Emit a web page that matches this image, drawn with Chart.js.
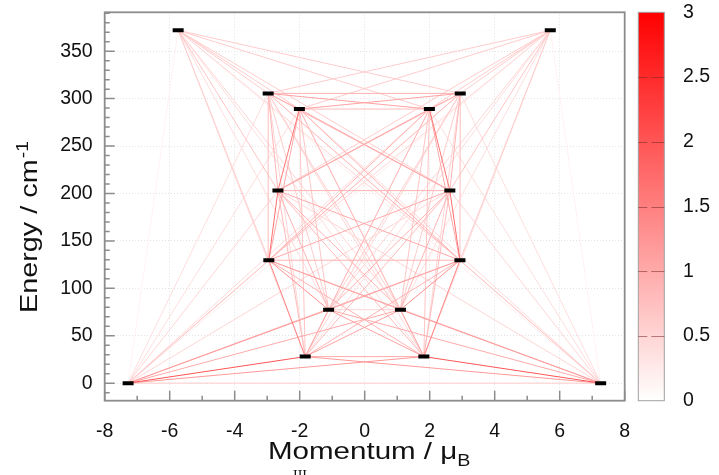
<!DOCTYPE html>
<html>
<head>
<meta charset="utf-8">
<script src="https://cdn.jsdelivr.net/npm/chart.js@4.4.1/dist/chart.umd.min.js"></script>
<style>
  html, body { margin: 0; padding: 0; background: #fff; }
</style>
</head>
<body>
<canvas id="levelChart" width="719" height="475"></canvas>
<script>
// doublet energies (cm-1) and the moments of the two states of each doublet (muB)
const levelEnergy = [0, 28, 77.5, 129.6, 203, 289, 305.5, 372];
const momentMinus = [-7.28, -1.83, -1.11, -2.95, -2.67, -2.01, -2.97, -5.74];
const momentPlus = [7.26, 1.82, 1.10, 2.93, 2.62, 1.99, 2.94, 5.71];

// transition strengths read from the line colours
// row a = lower doublet, entries = upper doublets a+1 .. 7
const sameSide = [
  [2.0, 1.2, 0.7, 0.5, 0.4, 0.4, 0.15],
  [1.1, 1.5, 0.8, 0.7, 0.5, 0.4],
  [1.3, 0.9, 0.7, 0.6, 0.4],
  [1.7, 1.0, 0.8, 0.6],
  [1.6, 0.9, 0.7],
  [0.8, 0.6],
  [0.6]
];
const crossSide = [
  [1.2, 1.0, 0.8, 0.5, 0.45, 0.4, 0.2],
  [1.1, 0.9, 0.8, 0.6, 0.5, 0.4],
  [1.1, 0.9, 0.8, 0.6, 0.5],
  [1.0, 0.9, 0.8, 0.5],
  [1.0, 0.9, 0.6],
  [1.1, 0.6],
  [0.6]
];
// between the two states of the same doublet
const withinDoublet = [0.6, 1.0, 0.5, 0.9, 0.9, 0.8, 0.9, 0.05];

const colorMax = 3;

function strengthColor(v) {
  const c = Math.round(255 * (1 - Math.min(v, colorMax) / colorMax));
  return "rgb(255," + c + "," + c + ")";
}

// build pairs
const transitions = [];
function addPair(x1, y1, x2, y2, v) {
  transitions.push({ a: { x: x1, y: y1 }, b: { x: x2, y: y2 }, v: v });
}
for (let a = 0; a < levelEnergy.length; a++) {
  addPair(momentMinus[a], levelEnergy[a], momentPlus[a], levelEnergy[a], withinDoublet[a]);
  for (let b = a + 1; b < levelEnergy.length; b++) {
    const s = sameSide[a][b - a - 1];
    const c = crossSide[a][b - a - 1];
    addPair(momentMinus[a], levelEnergy[a], momentMinus[b], levelEnergy[b], s);
    addPair(momentPlus[a], levelEnergy[a], momentPlus[b], levelEnergy[b], s);
    addPair(momentMinus[a], levelEnergy[a], momentPlus[b], levelEnergy[b], c);
    addPair(momentPlus[a], levelEnergy[a], momentMinus[b], levelEnergy[b], c);
  }
}

const datasets = [];

// black level bars on top
const levelPoints = [];
for (let i = 0; i < levelEnergy.length; i++) {
  levelPoints.push({ x: momentMinus[i], y: levelEnergy[i] });
  levelPoints.push({ x: momentPlus[i], y: levelEnergy[i] });
}
datasets.push({
  label: "levels",
  data: levelPoints,
  showLine: false,
  pointStyle: "line",
  pointRadius: 5.5,
  pointBorderWidth: 4,
  pointBorderColor: "#000",
  pointBackgroundColor: "#000",
  order: -1
});

transitions.forEach(function (t) {
  datasets.push({
    data: [t.a, t.b],
    showLine: true,
    borderColor: strengthColor(t.v),
    borderWidth: 1,
    pointRadius: 0,
    order: colorMax - t.v
  });
});

const tickFont = { family: "'Liberation Sans', Arial, sans-serif", size: 19.5 };

const decorPlugin = {
  id: "decor",
  afterDatasetsDraw(chart) {
    const ctx = chart.ctx;
    const area = chart.chartArea;
    const xs = chart.scales.x;
    const ys = chart.scales.y;
    ctx.save();
    ctx.strokeStyle = "#8c8c8c";
    ctx.lineWidth = 1.5;
    // tick marks pointing inwards
    ctx.beginPath();
    for (let v = -8; v <= 8; v++) {
      const px = xs.getPixelForValue(v);
      const len = v % 2 === 0 ? 10 : 5;
      ctx.moveTo(px, area.bottom);
      ctx.lineTo(px, area.bottom - len);
    }
    for (let v = -10; v <= 390; v += 10) {
      const py = ys.getPixelForValue(v);
      const len = v % 50 === 0 ? 10 : 5;
      ctx.moveTo(area.left, py);
      ctx.lineTo(area.left + len, py);
    }
    ctx.stroke();
    ctx.lineWidth = 1.8;
    ctx.strokeRect(area.left, area.top, area.right - area.left, area.bottom - area.top);
    ctx.restore();
  },
  afterDraw(chart) {
    const ctx = chart.ctx;
    const cs = chart.scales.cbar;

    // colour bar
    const left = cs.left + 13.6;
    const w = 26;
    const top = cs.getPixelForValue(colorMax);
    const bottom = cs.getPixelForValue(0);
    ctx.save();
    const grad = ctx.createLinearGradient(0, bottom, 0, top);
    grad.addColorStop(0, strengthColor(0));
    grad.addColorStop(1, strengthColor(colorMax));
    ctx.fillStyle = grad;
    ctx.fillRect(left, top, w, bottom - top);
    ctx.strokeStyle = "#a0a0a0";
    ctx.lineWidth = 1;
    ctx.strokeRect(left, top, w, bottom - top);
    ctx.strokeStyle = "rgba(120,40,40,0.55)";
    ctx.beginPath();
    cs.ticks.forEach(function (t) {
      if (t.value <= 0 || t.value >= colorMax) return;
      const py = Math.round(cs.getPixelForValue(t.value)) + 0.5;
      ctx.moveTo(left, py); ctx.lineTo(left + 9, py);
      ctx.moveTo(left + 13, py); ctx.lineTo(left + w, py);
    });
    ctx.stroke();

    // colour bar labels
    ctx.fillStyle = "#111";
    ctx.font = "19.5px 'Liberation Sans', Arial, sans-serif";
    ctx.textBaseline = "middle";
    ctx.textAlign = "left";
    cs.ticks.forEach(function (t) {
      ctx.fillText(String(t.value), 683, cs.getPixelForValue(t.value));
    });

    // y title with superscript
    ctx.textBaseline = "alphabetic";
    ctx.save();
    ctx.translate(37, 313);
    ctx.rotate(-Math.PI / 2);
    ctx.scale(1.2, 1);
    ctx.font = "24px 'Liberation Sans', Arial, sans-serif";
    const yMain = "Energy / cm";
    ctx.fillText(yMain, 0, 0);
    const yw = ctx.measureText(yMain).width;
    ctx.font = "16px 'Liberation Sans', Arial, sans-serif";
    ctx.fillText("-1", yw + 1, -9);
    ctx.restore();

    // x title with subscript
    ctx.save();
    ctx.translate(268, 459);
    ctx.scale(1.23, 1);
    ctx.font = "24px 'Liberation Sans', Arial, sans-serif";
    const xMain = "Momentum / \u03bc";
    ctx.fillText(xMain, 0, 0);
    const xw = ctx.measureText(xMain).width;
    ctx.font = "16px 'Liberation Sans', Arial, sans-serif";
    ctx.fillText("B", xw, 7);
    ctx.restore();

    // top of a caption line that is cut off by the picture edge
    ctx.font = "14px 'Liberation Serif', serif";
    ctx.textBaseline = "top";
    ctx.fillText("III", 293, 469);
    ctx.restore();
  }
};

function noVerticalPadding(s) {
  s.paddingTop = 0;
  s.paddingBottom = 0;
}

new Chart(document.getElementById("levelChart"), {
  type: "scatter",
  data: { datasets: datasets },
  options: {
    responsive: false,
    animation: false,
    events: [],
    layout: { padding: { top: 12.3, right: 0, bottom: 0, left: 0 } },
    plugins: {
      legend: { display: false },
      tooltip: { enabled: false }
    },
    scales: {
      x: {
        type: "linear",
        min: -8,
        max: 8,
        ticks: { stepSize: 2, font: tickFont, color: "#111", padding: 19, maxRotation: 0 },
        grid: { color: "#e3e3e3", lineWidth: 1, drawTicks: false },
        border: { display: false, dash: [1, 2] },
        afterFit: function (s) { s.height = 74.3; }
      },
      y: {
        type: "linear",
        min: -18.5,
        max: 391,
        ticks: { stepSize: 50, includeBounds: false, font: tickFont, color: "#111", padding: 12 },
        grid: { color: "#e3e3e3", lineWidth: 1, drawTicks: false },
        border: { display: false, dash: [1, 2] },
        afterFit: function (s) { s.width = 104.7; noVerticalPadding(s); }
      },
      cbar: {
        type: "linear",
        position: "right",
        min: 0,
        max: colorMax,
        ticks: { stepSize: 0.5, display: false },
        grid: { drawOnChartArea: false, drawTicks: false, display: false },
        border: { display: false },
        afterFit: function (s) { s.width = 94.3; noVerticalPadding(s); }
      }
    }
  },
  plugins: [decorPlugin]
});
</script>
</body>
</html>
